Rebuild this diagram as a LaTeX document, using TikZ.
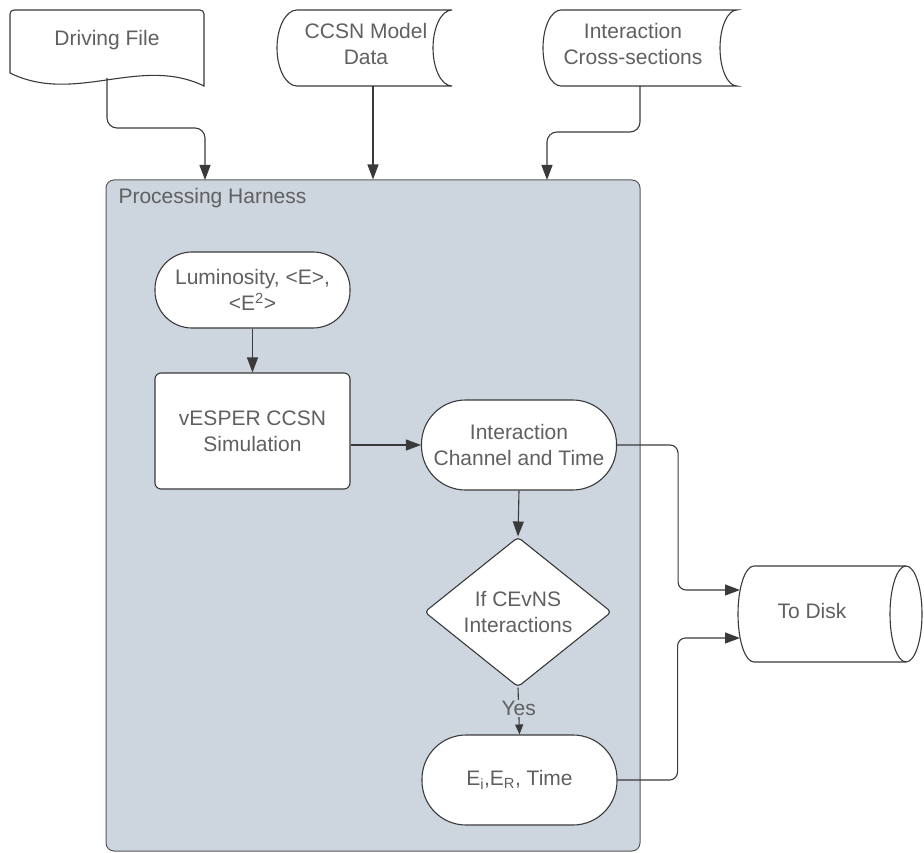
\documentclass[tikz,border=0pt]{standalone}
\usepackage{fontspec}
\setmainfont{Liberation Sans}
\usetikzlibrary{arrows.meta,shapes.geometric}
\definecolor{txt}{HTML}{606060}
\definecolor{ln}{HTML}{3A3A3A}
\definecolor{hfill}{HTML}{CDD5DF}
\begin{document}
\begin{tikzpicture}[x=1pt,y=-1pt,
  font=\fontsize{21}{26}\selectfont,
  shp/.style={draw=ln, line width=1.1pt, fill=white},
  lbl/.style={text=txt, align=center},
  conn/.style={draw=ln, line width=1.1pt, -{Triangle[length=15pt,width=11pt]}},
  stadium/.style={shp, lbl, minimum width=195pt, minimum height=90pt, rounded corners=44pt, inner sep=0pt}]
\useasboundingbox (0,0) rectangle (924,853);

% harness container
\node[draw=ln!85, line width=1pt, fill=hfill, rounded corners=8pt, minimum width=534pt, minimum height=671pt, inner sep=0pt] (ph) at (373,515.5) {};
\node[lbl, anchor=west] (phl) at (115,198) {Processing Harness};
\coordinate (in1) at (205,180);
\coordinate (in3) at (547,180);

% Driving File (document shape)
\draw[shp] (10,73) [rounded corners=4pt]-- (10,10) -- (204,10) [sharp corners]-- (204,86)
  .. controls (140,55) and (75,105) .. (10,73) -- cycle;
\node[lbl] (df) at (107,40) {Driving File};
\coordinate (dfout) at (107,78);

% CCSN Model Data (stored data shape)
\draw[shp] (297,10) -- (452,10) arc[start angle=90,end angle=270,x radius=19pt,y radius=38pt]
  -- (297,86) arc[start angle=270,end angle=90,x radius=20pt,y radius=38pt] -- cycle;
\node[lbl] (ccsn) at (366,44) {CCSN Model\\Data};
\coordinate (ccsnout) at (373,86);

% Interaction Cross-sections (stored data shape)
\draw[shp] (561,10) -- (737,10) arc[start angle=90,end angle=270,x radius=17pt,y radius=38pt]
  -- (561,86) arc[start angle=270,end angle=90,x radius=18pt,y radius=38pt] -- cycle;
\node[lbl] (ics) at (633,44) {Interaction\\Cross-sections};
\coordinate (icsout) at (640,86);

% inputs
\draw[conn, rounded corners=10pt] (dfout) -- (107,128) -| (in1);
\draw[conn] (ccsnout) -- (ccsnout |- ph.north);
\draw[conn, rounded corners=10pt] (icsout) -- (640,132) -| (in3);

% inner nodes
\node[stadium, minimum height=76pt, rounded corners=37pt] (lum) at (252.5,290) {Luminosity, <E>,\\<E\textsuperscript{2}>};
\node[shp, lbl, rounded corners=6pt, minimum width=195pt, minimum height=116pt, inner sep=0pt] (ves) at (252.5,431) {vESPER CCSN\\Simulation};
\node[stadium] (ic) at (519,445) {Interaction\\Channel and Time};
\node[shp, lbl, diamond, rounded corners=4pt, minimum width=187pt, minimum height=138pt, inner sep=0pt] (dia) at (518,612) {If CEvNS\\Interactions};
\node[stadium] (eb) at (519.5,780) {E\textsubscript{i},E\textsubscript{R}, Time};

% To Disk (horizontal cylinder)
\draw[shp] (754,566) -- (906,566) arc[start angle=90,end angle=-90,x radius=16pt,y radius=48pt]
  -- (754,662) arc[start angle=270,end angle=90,x radius=16pt,y radius=48pt] -- cycle;
\draw[draw=ln, line width=1.1pt] (906,566) arc[start angle=90,end angle=270,x radius=16pt,y radius=48pt];
\node[lbl] (disk) at (812,611) {To Disk};
\coordinate (din1) at (740,590);
\coordinate (din2) at (740,638);

% connectors
\draw[conn] (lum.south) -- (ves.north);
\draw[conn] (ic.west -| ves.east) -- (ic.west);
\draw[conn] (ic.south) -- (dia.north);
\draw[draw=ln, line width=1.1pt, -{Triangle[length=10pt,width=8pt]}] (dia.south) -- node[fill=hfill, text=txt, inner sep=1pt, pos=0.45] (yes) {Yes} (eb.north);
\draw[conn, rounded corners=8pt] (ic.east) -- ++(61,0) |- (din1);
\draw[conn, rounded corners=8pt] (eb.east) -- ++(60,0) |- (din2);
\end{tikzpicture}
\end{document}
